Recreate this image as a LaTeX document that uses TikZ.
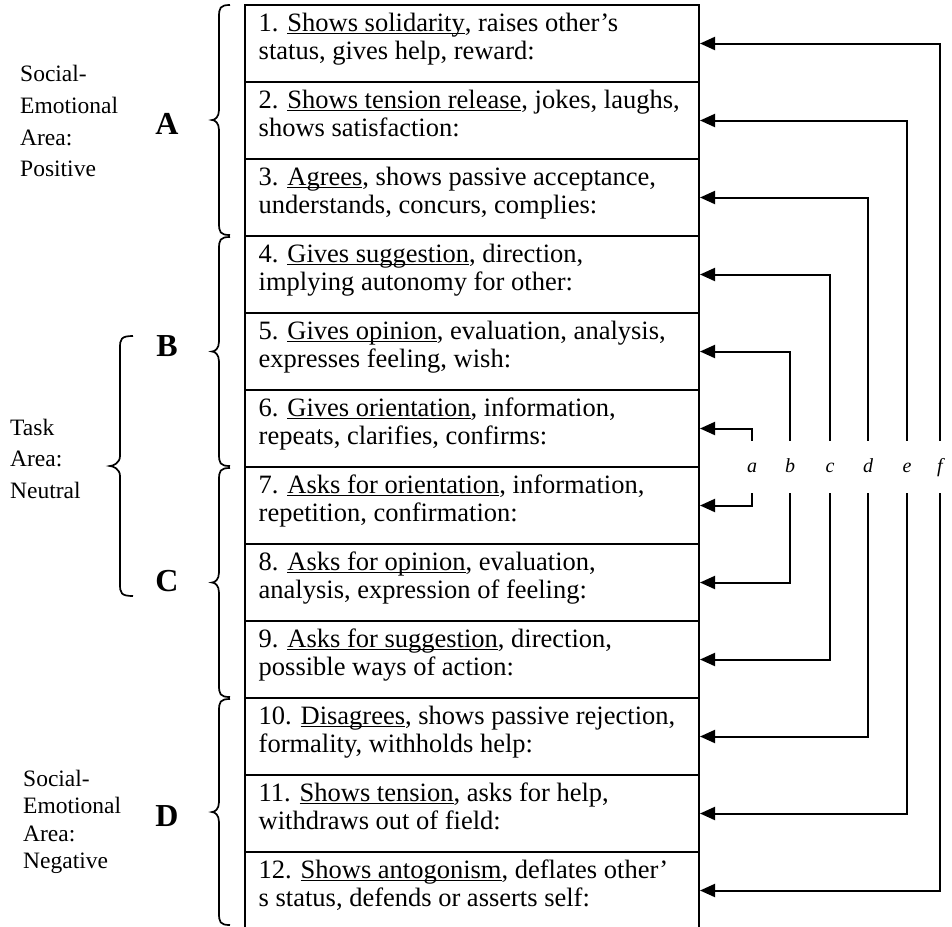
\documentclass[tikz,border=0pt]{standalone}
\usepackage{fontspec}
\setmainfont{Liberation Serif}
\usetikzlibrary{arrows.meta,calc}
\newcommand\myul[1]{\setbox0\hbox{#1}\rlap{\rule[-3.4pt]{\wd0}{1.4pt}}\box0}
\newcommand\drawbrace[5]{%
  \pgfmathsetmacro\bmid{(#4+#5)/2}%
  \draw[bracestyle] (#1,#4) .. controls (#2+1,#4) and (#2,#4+3) .. (#2,#4+12)
    -- (#2,\bmid-10) .. controls (#2,\bmid-3) and (#3+3,\bmid) .. (#3,\bmid)
    .. controls (#3+3,\bmid) and (#2,\bmid+3) .. (#2,\bmid+10)
    -- (#2,#5-12) .. controls (#2,#5-3) and (#2+1,#5) .. (#1,#5);}
\begin{document}
\begin{tikzpicture}[x=1pt,y=-1pt,
  rowbox/.style={draw, line width=2pt, rectangle, minimum width=454pt, minimum height=77pt, inner sep=0pt},
  rowtext/.style={anchor=base west, inner sep=0pt, font=\fontsize{26.5}{28}\selectfont},
  grp/.style={anchor=base west, inner sep=0pt, font=\fontsize{23.5}{31.7}\selectfont},
  big/.style={font=\fontsize{32}{32}\selectfont\bfseries, inner sep=0pt},
  col/.style={font=\fontsize{20}{20}\selectfont\itshape, inner sep=0pt, text height=14pt, text depth=4pt, minimum height=52pt},
  arr/.style={line width=2pt, -{Triangle[length=15pt,width=13pt]}},
  bracestyle/.style={line width=1.7pt}]
\useasboundingbox (0,0) rectangle (952,926);
\clip (0,0) rectangle (952,926);

% rows
\foreach \k in {1,...,12}{
  \node[rowbox] (r\k) at (472,{43.5+77*(\k-1)}) {};
}
\node[rowtext] (t1) at ($(r1.north west)+(14.5,27)$) {\begin{tabular}[t]{@{}l@{}}1. \myul{Shows solidarity}, raises other's\\status, gives help, reward:\end{tabular}};
\node[rowtext] (t2) at ($(r2.north west)+(14.5,27)$) {\begin{tabular}[t]{@{}l@{}}2. \myul{Shows tension release}, jokes, laughs,\\shows satisfaction:\end{tabular}};
\node[rowtext] (t3) at ($(r3.north west)+(14.5,27)$) {\begin{tabular}[t]{@{}l@{}}3. \myul{Agrees}, shows passive acceptance,\\understands, concurs, complies:\end{tabular}};
\node[rowtext] (t4) at ($(r4.north west)+(14.5,27)$) {\begin{tabular}[t]{@{}l@{}}4. \myul{Gives suggestion}, direction,\\implying autonomy for other:\end{tabular}};
\node[rowtext] (t5) at ($(r5.north west)+(14.5,27)$) {\begin{tabular}[t]{@{}l@{}}5. \myul{Gives opinion}, evaluation, analysis,\\expresses feeling, wish:\end{tabular}};
\node[rowtext] (t6) at ($(r6.north west)+(14.5,27)$) {\begin{tabular}[t]{@{}l@{}}6. \myul{Gives orientation}, information,\\repeats, clarifies, confirms:\end{tabular}};
\node[rowtext] (t7) at ($(r7.north west)+(14.5,27)$) {\begin{tabular}[t]{@{}l@{}}7. \myul{Asks for orientation}, information,\\repetition, confirmation:\end{tabular}};
\node[rowtext] (t8) at ($(r8.north west)+(14.5,27)$) {\begin{tabular}[t]{@{}l@{}}8. \myul{Asks for opinion}, evaluation,\\analysis, expression of feeling:\end{tabular}};
\node[rowtext] (t9) at ($(r9.north west)+(14.5,27)$) {\begin{tabular}[t]{@{}l@{}}9. \myul{Asks for suggestion}, direction,\\possible ways of action:\end{tabular}};
\node[rowtext] (t10) at ($(r10.north west)+(14.5,27)$) {\begin{tabular}[t]{@{}l@{}}10. \myul{Disagrees}, shows passive rejection,\\formality, withholds help:\end{tabular}};
\node[rowtext] (t11) at ($(r11.north west)+(14.5,27)$) {\begin{tabular}[t]{@{}l@{}}11. \myul{Shows tension}, asks for help,\\withdraws out of field:\end{tabular}};
\node[rowtext] (t12) at ($(r12.north west)+(14.5,27)$) {\begin{tabular}[t]{@{}l@{}}12. \myul{Shows antogonism}, deflates other'\\s status, defends or asserts self:\end{tabular}};

% left group labels
\node[grp] (ga) at (20,81.7) {\begin{tabular}[t]{@{}l@{}}Social-\\Emotional\\Area:\\Positive\end{tabular}};
\node[grp] (gt) at (10,435) {\begin{tabular}[t]{@{}l@{}}Task\\Area:\\Neutral\end{tabular}};
\node[grp, font=\fontsize{23.5}{27.2}\selectfont] (gd) at (23,786.7) {\begin{tabular}[t]{@{}l@{}}Social-\\Emotional\\Area:\\Negative\end{tabular}};

\node[big] (A) at (167,124) {A};
\node[big] (B) at (167,346) {B};
\node[big] (C) at (167,581) {C};
\node[big] (D) at (167,816) {D};

% braces
\drawbrace{230}{219}{212}{5}{235}
\drawbrace{230}{219}{212}{237}{466}
\drawbrace{230}{219}{212}{468}{697}
\drawbrace{230}{219}{212}{699}{925}
\drawbrace{133}{120}{110}{336}{596}

% column letters
\node[col] (la) at (752,467) {a};
\node[col] (lb) at (790,467) {b};
\node[col] (lc) at (830,467) {c};
\node[col] (ld) at (868,467) {d};
\node[col] (le) at (907,467) {e};
\node[col] (lf) at (940,467) {f};

% connectors
\draw[arr] (lf.north) |- (r1.east);
\draw[arr] (lf.south) |- (r12.east);
\draw[arr] (le.north) |- (r2.east);
\draw[arr] (le.south) |- (r11.east);
\draw[arr] (ld.north) |- (r3.east);
\draw[arr] (ld.south) |- (r10.east);
\draw[arr] (lc.north) |- (r4.east);
\draw[arr] (lc.south) |- (r9.east);
\draw[arr] (lb.north) |- (r5.east);
\draw[arr] (lb.south) |- (r8.east);
\draw[arr] (la.north) |- (r6.east);
\draw[arr] (la.south) |- (r7.east);
\end{tikzpicture}
\end{document}
